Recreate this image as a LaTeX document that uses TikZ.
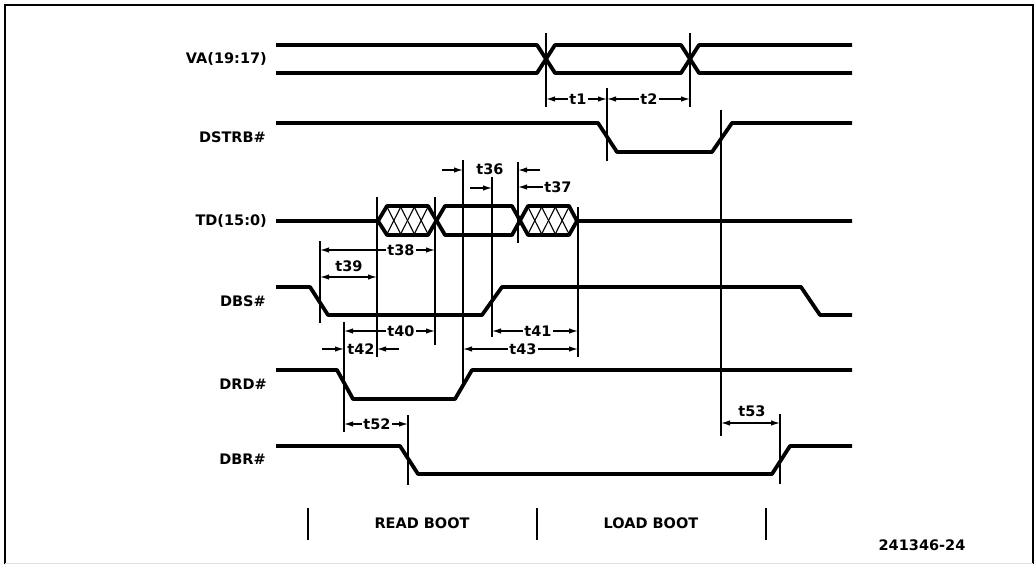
\documentclass[tikz,border=0pt]{standalone}
\usepackage{fontspec}
\setmainfont{DejaVu Sans}
\usetikzlibrary{arrows.meta}
\begin{document}
\begin{tikzpicture}[x=1pt,y=-1pt,
  sig/.style={line width=3.8pt,line join=round},
  refl/.style={line width=1.2pt},
  hatch/.style={line width=1.1pt},
  dim/.style={line width=1.3pt,-{Latex[length=9pt,width=5.5pt]}},
  dimboth/.style={line width=1.3pt,{Latex[length=9pt,width=5.5pt]}-{Latex[length=9pt,width=5.5pt]}},
  lbl/.style={font=\fontsize{14.5}{16}\selectfont\bfseries,inner sep=1.5pt},
  sname/.style={font=\fontsize{14.5}{16}\selectfont\bfseries,inner sep=0pt,anchor=east},
  bar/.style={line width=1.8pt},
  frame/.style={line width=2pt}]
\useasboundingbox (0,0) rectangle (1035,564);
% frame
\draw[frame] (5,564) -- (5,5) -- (1033,5) -- (1033,564);
\draw[gray!25,line width=1pt] (5,563) -- (1033,563);

% reference x positions
\coordinate (xa) at (546,0);
\coordinate (xb) at (690,0);
\coordinate (xc) at (607,0);
\coordinate (xd) at (721,0);
\coordinate (x320) at (320,0);
\coordinate (x344) at (344,0);
\coordinate (x377) at (377,0);
\coordinate (x408) at (408,0);
\coordinate (x435) at (435,0);
\coordinate (x463) at (463,0);
\coordinate (x492) at (492,0);
\coordinate (x518) at (518,0);
\coordinate (x578) at (578,0);
\coordinate (x780) at (780,0);

% signal names
\node[sname] (nva)  at (267,59)  {VA(19:17)};
\node[sname] (nds)  at (266,137) {DSTRB\#};
\node[sname] (ntd)  at (267,221) {TD(15:0)};
\node[sname] (ndbs) at (266,301) {DBS\#};
\node[sname] (ndrd) at (267,384) {DRD\#};
\node[sname] (ndbr) at (266,459) {DBR\#};

% signals
\draw[sig] (276,45)--(537,45)--(555,73)--(681,73)--(699,45)--(852,45);
\draw[sig] (276,73)--(537,73)--(555,45)--(681,45)--(699,73)--(852,73);
\draw[sig] (276,123)--(598,123)--(617,152)--(712,152)--(732,123)--(852,123);
\draw[sig] (276,221)--(378,221)--(387,206)--(428,206)--(445,235)--(512,235)--(528,206)--(569,206)--(577,221)--(852,221);
\draw[sig] (378,221)--(387,235)--(428,235)--(445,206)--(512,206)--(528,235)--(569,235)--(577,221);
\draw[sig] (276,287)--(310,287)--(328,315)--(482,315)--(502,287)--(801,287)--(820,315)--(852,315);
\draw[sig] (276,370)--(337,370)--(353,399)--(455,399)--(472,370)--(852,370);
\draw[sig] (276,446)--(400,446)--(418,474)--(772,474)--(790,446)--(852,446);

% hatching of invalid data
\foreach \a/\b in {387/400.7,400.7/414.3,414.3/428,528/541.7,541.7/555.3,555.3/569}{
  \draw[hatch] (\a,207)--(\b,234);
  \draw[hatch] (\b,207)--(\a,234);
}

% reference lines
\draw[refl] (xa |- 0,33) -- (xa |- 0,107);
\draw[refl] (xb |- 0,33) -- (xb |- 0,107);
\draw[refl] (xc |- 0,88) -- (xc |- 0,161);
\draw[refl] (xd |- 0,110) -- (xd |- 0,436);
\draw[refl] (x320 |- 0,241) -- (x320 |- 0,323);
\draw[refl] (x377 |- 0,197) -- (x377 |- 0,357);
\draw[refl] (x435 |- 0,197) -- (x435 |- 0,345);
\draw[refl] (x463 |- 0,160) -- (x463 |- 0,385);
\draw[refl] (x492 |- 0,177) -- (x492 |- 0,337);
\draw[refl] (x518 |- 0,162) -- (x518 |- 0,243);
\draw[refl] (x578 |- 0,207) -- (x578 |- 0,357);
\draw[refl] (x344 |- 0,322) -- (x344 |- 0,432);
\draw[refl] (x408 |- 0,415) -- (x408 |- 0,485);
\draw[refl] (x780 |- 0,414) -- (x780 |- 0,484);

% t1, t2
\node[lbl] (t1) at (578,99) {t1};
\draw[dim] (t1.west) -- (t1.west -| xa);
\draw[dim] (t1.east) -- (t1.east -| xc);
\node[lbl] (t2) at (649,99) {t2};
\draw[dim] (t2.west) -- (t2.west -| xc);
\draw[dim] (t2.east) -- (t2.east -| xb);

% t36, t37
\node[lbl] (t36) at (490,169) {t36};
\coordinate (a36l) at (442,170);
\coordinate (a36r) at (540,170);
\draw[dim] (a36l) -- (a36l -| x463);
\draw[dim] (a36r) -- (a36r -| x518);
\coordinate (a37l) at (470,188);
\draw[dim] (a37l) -- (a37l -| x492);
\node[lbl] (t37) at (558,187) {t37};
\draw[dim] (t37.west) -- (t37.west -| x518);

% t38
\node[lbl] (t38) at (401,250) {t38};
\draw[dim] (t38.west) -- (t38.west -| x320);
\draw[dim] (t38.east) -- (t38.east -| x435);

% t39
\node[lbl] (t39) at (349,266) {t39};
\coordinate (a39) at (349,277);
\draw[dimboth] (a39 -| x320) -- (a39 -| x377);

% t40
\node[lbl] (t40) at (401,331) {t40};
\draw[dim] (t40.west) -- (t40.west -| x344);
\draw[dim] (t40.east) -- (t40.east -| x435);

% t42
\node[lbl] (t42) at (361,349) {t42};
\coordinate (a42l) at (322,349);
\coordinate (a42r) at (399,349);
\draw[dim] (a42l) -- (a42l -| x344);
\draw[dim] (a42r) -- (a42r -| x377);

% t41
\node[lbl] (t41) at (538,331) {t41};
\draw[dim] (t41.west) -- (t41.west -| x492);
\draw[dim] (t41.east) -- (t41.east -| x578);

% t43
\node[lbl] (t43) at (523,349) {t43};
\draw[dim] (t43.west) -- (t43.west -| x463);
\draw[dim] (t43.east) -- (t43.east -| x578);

% t52
\node[lbl] (t52) at (377,424) {t52};
\draw[dim] (t52.west) -- (t52.west -| x344);
\draw[dim] (t52.east) -- (t52.east -| x408);

% t53
\node[lbl] (t53) at (752,411) {t53};
\coordinate (a53) at (752,423);
\draw[dimboth] (a53 -| xd) -- (a53 -| x780);

% phases
\draw[bar] (308,508) -- (308,540);
\draw[bar] (537,508) -- (537,540);
\draw[bar] (766,508) -- (766,540);
\node[lbl] (rb) at (422,523) {READ BOOT};
\node[lbl] (lb) at (651,523) {LOAD BOOT};
\node[lbl] (fig) at (922,545) {241346-24};
\end{tikzpicture}
\end{document}
